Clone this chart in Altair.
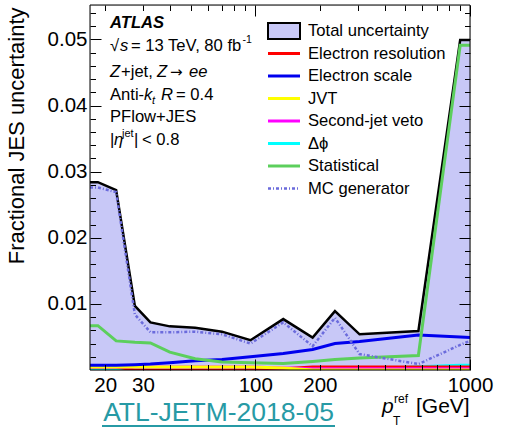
import altair as alt
import pandas as pd

# ---------------- data ----------------
PT = [17, 18.5, 22.5, 27.5, 32.5, 40, 52.5, 70, 95, 135, 185, 235, 306, 575, 900, 1000]
TOTAL = [0.0284, 0.0284, 0.0272, 0.0097, 0.0072, 0.0066, 0.0064, 0.0058, 0.0045, 0.0077,
         0.0049, 0.0089, 0.0054, 0.0059, 0.0499, 0.0499]
EL_RES = [0.00045, 0.00045, 0.00045, 0.0, 0.0, 0.0, 0.0, 0.0, 0.0, 0.0002,
          0.00045, 0.00045, 0.00045, 0.00045, 0.00045, 0.00045]
EL_SCALE = [0.0007, 0.0007, 0.0007, 0.0008, 0.0009, 0.0011, 0.0014, 0.0016, 0.0020, 0.0025,
            0.0031, 0.0040, 0.0043, 0.0053, 0.0050, 0.0049]
JVT = [0.00045, 0.00045, 0.00045, 0.00045, 0.00045, 0.00045, 0.00045, 0.00045, 0.00045,
       0.0003, 0.0, 0.0, 0.0, 0.0, 0.0, 0.0]
SECOND_JET = [0.00045, 0.00045, 0.00045, 0.00045, 0.00045, 0.00045, 0.00045, 0.00045,
              0.00045, 0.0003, 0.0002, 0.0002, 0.0002, 0.0002, 0.0002, 0.0002]
DPHI = [0.0, 0.0, 0.0, 0.0, 0.0, 0.0, 0.0, 0.0, 0.0, 0.0,
        0.0, 0.0, 0.0001, 0.0005, 0.0007, 0.0007]
STAT = [0.0067, 0.0067, 0.0044, 0.0042, 0.0041, 0.0027, 0.0017, 0.0012, 0.0011, 0.0010,
        0.0013, 0.0016, 0.0018, 0.0022, 0.0491, 0.0491]
MC_GEN = [0.0276, 0.0276, 0.0269, 0.0084, 0.0057, 0.0057, 0.0058, 0.0054, 0.0040, 0.0072,
          0.0036, 0.0079, 0.0024, 0.0009, 0.0038, 0.0044]

LEGEND_NAMES = ["Total uncertainty", "Electron resolution", "Electron scale", "JVT",
                "Second-jet veto", "Δϕ", "Statistical", "MC generator"]
SERIES_COLS = ["total", "el_res", "el_scale", "jvt", "sjv", "dphi", "stat", "mc"]
SERIES_COLORS = ["#000000", "#ff0000", "#0000ee", "#ffff00", "#ff00ff", "#00ffff",
                 "#5ccf5c", "#6b6bdc"]
# drawing order of the component curves (small ones first so the stacking near zero
# matches the reference)
DRAW_ORDER = ["dphi", "el_res", "sjv", "jvt", "el_scale", "stat", "mc"]

X_MAJOR = [100, 1000]
X_MINOR = [20, 30, 40, 50, 60, 70, 80, 90, 200, 300, 400, 500, 600, 700, 800, 900]
X_LABELED_MINOR = [20, 30, 200]
Y_MAJOR = [0.01, 0.02, 0.03, 0.04, 0.05]
Y_MINOR = [0.002, 0.004, 0.006, 0.008, 0.012, 0.014, 0.016, 0.018, 0.022, 0.024, 0.026,
           0.028, 0.032, 0.034, 0.036, 0.038, 0.042, 0.044, 0.046, 0.048, 0.052, 0.054]

# ---------------- styling / layout ----------------
FONT = "Liberation Sans"
FILL = "#c8c8f7"
LEFT, TOP, W, H = 90, 5, 380, 365
MAJ, MIN = 11, 5.5

df = pd.DataFrame({"pt": PT, "total": TOTAL, "el_res": EL_RES, "el_scale": EL_SCALE,
                   "jvt": JVT, "sjv": SECOND_JET, "dphi": DPHI, "stat": STAT, "mc": MC_GEN})

x_scale = alt.Scale(type="log", domain=[17, 1000], nice=False)
y_scale = alt.Scale(domain=[0, 0.0552], nice=False, zero=False)


def axis(orient, values, size, labels=False, **kw):
    opts = dict(orient=orient, values=values, tickSize=size, offset=-size, domain=False,
                grid=False, ticks=True, tickColor="black", tickWidth=1, zindex=2,
                labels=labels, title=None)
    if labels:
        opts.update(labelFont=FONT, labelFontSize=20.5, labelColor="black",
                    labelOverlap=False, labelFlush=False)
    opts.update(kw)
    return alt.Axis(**opts)


minor_expr = " || ".join(f"datum.value == {v}" for v in X_LABELED_MINOR)
ax_x_bot_major = axis("bottom", X_MAJOR, MAJ, True, format="d", labelPadding=5)
ax_x_bot_minor = axis("bottom", X_MINOR, MIN, True, format="d", labelPadding=5,
                      labelExpr=f"({minor_expr}) ? datum.label : ''")
ax_x_top_major = axis("top", X_MAJOR, MAJ)
ax_x_top_minor = axis("top", X_MINOR, MIN)
ax_y_left_major = axis("left", Y_MAJOR, MAJ, True, format=".2f", labelPadding=3,
                       title="Fractional JES uncertainty", titleFont=FONT,
                       titleFontSize=22, titleFontWeight="normal", titleColor="black",
                       titleAngle=270, titleAlign="right", titleBaseline="alphabetic",
                       titleX=-78, titleY=2)
ax_y_left_minor = axis("left", Y_MINOR, MIN)
ax_y_right_major = axis("right", Y_MAJOR, MAJ)
ax_y_right_minor = axis("right", Y_MINOR, MIN)

base = alt.Chart(df)


def X(ax):
    return alt.X("pt:Q", scale=x_scale, axis=ax)


def Y(col, ax):
    return alt.Y(f"{col}:Q", scale=y_scale, axis=ax)


layers = []
# total uncertainty band
layers.append(base.mark_area(color=FILL, clip=True).encode(
    x=X(ax_x_bot_major), y=Y("total", ax_y_left_major), y2=alt.datum(0)))
# total outline
layers.append(base.mark_line(color="black", strokeWidth=2.5, clip=True).encode(
    x=X(ax_x_bot_minor), y=Y("total", ax_y_left_minor)))

color_of = dict(zip(SERIES_COLS, SERIES_COLORS))
axis_pairs = {"el_scale": (ax_x_top_major, ax_y_right_major),
              "stat": (ax_x_top_minor, ax_y_right_minor)}
for col in DRAW_ORDER:
    color = color_of[col]
    xa, ya = axis_pairs.get(col, (None, None))
    if col == "mc":
        mk = base.mark_line(color=color, strokeWidth=2.5, strokeDash=[3, 2, 1, 2], clip=True)
    else:
        mk = base.mark_line(color=color, strokeWidth=3, clip=True)
    layers.append(mk.encode(x=X(xa), y=Y(col, ya)))

ONE = pd.DataFrame({"k": [0]})


def text(s, px, py, size=16.6, style="normal", weight="normal", color="black",
         align="left", baseline="alphabetic", font=FONT):
    return alt.Chart(ONE).mark_text(
        text=s, font=font, fontSize=size, fontStyle=style, fontWeight=weight,
        color=color, align=align, baseline=baseline
    ).encode(x=alt.value(px - LEFT), y=alt.value(py - TOP))


# ---------------- legend ----------------
ROW0, ROWSTEP = 31, 22.5
SYM_X0, SYM_X1, LAB_X = 268, 300, 308
for i, (name, color) in enumerate(zip(LEGEND_NAMES, SERIES_COLORS)):
    ry = ROW0 + i * ROWSTEP
    if i == 0:
        layers.append(alt.Chart(ONE).mark_rect(fill=FILL, stroke="black", strokeWidth=2).encode(
            x=alt.value(SYM_X0 - LEFT), x2=alt.value(SYM_X1 - LEFT),
            y=alt.value(ry - 8 - TOP), y2=alt.value(ry + 8 - TOP)))
    else:
        props = dict(color=color, strokeWidth=3)
        if name == "MC generator":
            props = dict(color=color, strokeWidth=2.5, strokeDash=[3, 2, 1, 2])
        layers.append(alt.Chart(ONE).mark_rule(**props).encode(
            x=alt.value(SYM_X0 - LEFT), x2=alt.value(SYM_X1 - LEFT), y=alt.value(ry - TOP)))
    layers.append(text(name, LAB_X, ry, baseline="middle"))

# ---------------- ATLAS label block ----------------
layers += [
    text("ATLAS", 110, 28, weight="bold", style="italic"),
    text("√", 110, 51),
    text("s", 120, 51, style="italic"),
    text("= 13 TeV, 80 fb", 131, 51),
    text("-1", 242.5, 43, size=10.5),
    text("Z", 110, 77, style="italic"),
    text("+jet,", 121, 77),
    text("Z", 157, 77, style="italic"),
    text("→", 170, 77, size=15, font="DejaVu Sans"),
    text("ee", 189, 77, style="italic"),
    text("Anti-", 110, 100),
    text("k", 144, 100, style="italic"),
    text("t", 152, 104, size=11, style="italic"),
    text("R", 161, 100, style="italic"),
    text("= 0.4", 176, 100),
    text("PFlow+JES", 110, 122),
    text("|", 110, 145),
    text("η", 114, 145, style="italic"),
    text("jet", 122, 137, size=11),
    text("|", 134, 145),
    text("< 0.8", 142, 145),
]

# ---------------- x title and reference tag ----------------
layers += [
    text("p", 382, 413, size=21, style="italic"),
    text("ref", 394, 403, size=12),
    text("T", 393, 425, size=12),
    text("[GeV]", 416, 413, size=21),
    text("ATL-JETM-2018-05", 218.5, 421, size=26.5, color="#279aa5", align="center"),
    alt.Chart(ONE).mark_rule(color="#279aa5", strokeWidth=2).encode(
        x=alt.value(102 - LEFT), x2=alt.value(335 - LEFT), y=alt.value(426 - TOP)),
]

# frame on top
layers.append(alt.Chart(ONE).mark_rect(fillOpacity=0, stroke="black", strokeWidth=1).encode(
    x=alt.value(0), x2=alt.value(W), y=alt.value(0), y2=alt.value(H)))

chart = alt.layer(*layers).resolve_axis(x="independent", y="independent").properties(
    width=W, height=H,
    padding={"left": LEFT, "top": TOP, "right": 505 - LEFT - W, "bottom": 433 - TOP - H},
    autosize=alt.AutoSizeParams(type="none"),
).configure_view(stroke="transparent").configure(background="white")

chart.save("out.html", embed_options={"renderer": "svg", "actions": False})
